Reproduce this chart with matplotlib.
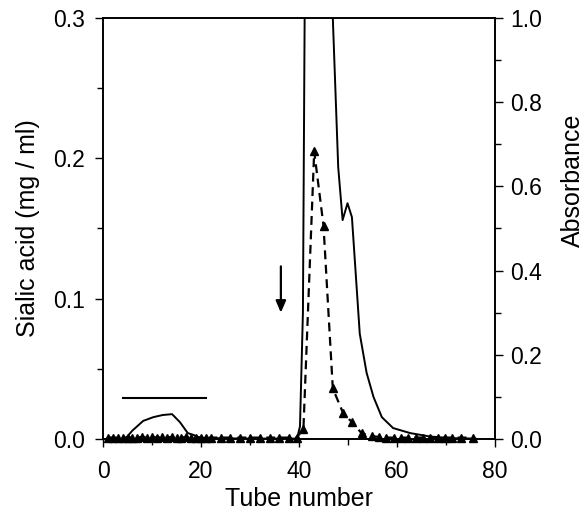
import matplotlib
matplotlib.use("Agg")
import matplotlib.pyplot as plt
from matplotlib.ticker import MultipleLocator, FormatStrFormatter

plt.rcParams['font.family'] = ['Liberation Sans', 'DejaVu Sans']

# Absorbance (solid line, right axis)
abs_tube = [0, 4.5, 6, 8.2, 10.3, 12.2, 14.1, 15.7, 17.3, 18.4, 19.6, 21.5, 30, 39.6, 40.2, 40.8, 41.3,
            44, 46.9, 48.0, 48.9, 49.9, 50.8, 52.4, 53.8, 55.2, 56.9, 59.2, 62.7, 66.7, 71, 76]
abs_val = [0, 0, 0.02, 0.043, 0.052, 0.057, 0.059, 0.04, 0.014, 0.01, 0.004, 0.002, 0.001, 0.001, 0.03, 0.3, 1.3,
           2.0, 1.0, 0.646, 0.52, 0.56, 0.527, 0.25, 0.157, 0.1, 0.052, 0.026, 0.014, 0.006, 0.002, 0.001]

# Sialic acid (dashed with triangles, left axis)
sia_tube = [1, 2, 3, 4, 5, 6, 7, 8, 9, 10, 11, 12, 13, 14, 15, 16, 17, 18, 19, 20,
            21, 22, 24, 26, 28, 30, 32, 34, 36, 38, 39.5, 40.9, 43.1, 45.0, 46.9, 49.0, 50.8,
            52.8, 54.8, 56.3, 57.8, 59.3, 60.8, 62.3, 63.8, 65.3, 66.8, 68.3, 69.8, 71.3, 73, 75.5]
sia_val = [0.001, 0.001, 0.001, 0.001, 0.001, 0.001, 0.001, 0.0015, 0.001, 0.0015, 0.001, 0.0015,
           0.001, 0.0015, 0.001, 0.001, 0.0015, 0.001, 0.001, 0.001,
           0.001, 0.001, 0.001, 0.001, 0.001, 0.001, 0.001, 0.001, 0.001, 0.001, 0.001,
           0.007, 0.205, 0.152, 0.036, 0.0185, 0.012, 0.004, 0.002, 0.0015, 0.001, 0.001,
           0.001, 0.001, 0.001, 0.001, 0.001, 0.001, 0.001, 0.001, 0.001, 0.001]

pool_range = [4.1, 21.0]
pool_level = 0.029
arrow_x = 36.3
arrow_from = 0.125
arrow_to = 0.088

fig = plt.figure(figsize=(5.87, 5.12), dpi=100)
L, R, B, T = 103 / 587, 495 / 587, (512 - 439) / 512, (512 - 18) / 512
ax = fig.add_axes([L, B, R - L, T - B])
ax2 = ax.twinx()

ax2.plot(abs_tube, abs_val, color='black', lw=1.4)
ax.plot(sia_tube, sia_val, color='black', lw=1.6, ls=(0, (4, 2.5)),
        marker='^', markersize=6, clip_on=False, zorder=3)

ax.plot(pool_range, [pool_level, pool_level], color='black', lw=1.5)
ax.annotate('', xy=(arrow_x, arrow_to), xytext=(arrow_x, arrow_from),
            arrowprops=dict(arrowstyle='-|>,head_width=0.3,head_length=0.7',
                            color='black', lw=1.6))

ax.set_xlim(0, 80)
ax.set_ylim(0, 0.3)
ax2.set_ylim(0, 1.0)

ax.xaxis.set_major_locator(MultipleLocator(20))
ax.xaxis.set_minor_locator(MultipleLocator(10))
ax.yaxis.set_major_locator(MultipleLocator(0.1))
ax.yaxis.set_minor_locator(MultipleLocator(0.05))
ax2.yaxis.set_major_locator(MultipleLocator(0.2))
ax2.yaxis.set_minor_locator(MultipleLocator(0.1))

ax.yaxis.set_major_formatter(FormatStrFormatter('%.1f'))
ax2.yaxis.set_major_formatter(FormatStrFormatter('%.1f'))

for a in (ax, ax2):
    a.tick_params(which='both', direction='out', labelsize=16.5, width=1.0)
    a.tick_params(which='major', length=6)
    a.tick_params(which='minor', length=4)
    for s in a.spines.values():
        s.set_linewidth(1.2)
ax.tick_params(axis='x', which='major', pad=9)
ax.tick_params(axis='y', which='major', pad=7)
ax2.tick_params(axis='y', which='major', pad=5)

ax.set_xlabel('Tube number', fontsize=18)
ax.set_ylabel('Sialic acid (mg / ml)', fontsize=18)
ax2.set_ylabel('Absorbance', fontsize=18)

ax.yaxis.label.set_va('center')
ax.yaxis.label.set_ha('center')
ax.yaxis.set_label_coords(-0.191, 0.5)
ax2.yaxis.label.set_va('center')
ax2.yaxis.label.set_ha('center')
ax2.yaxis.set_label_coords(1.2, 0.615)
ax.xaxis.label.set_va('center')
ax.xaxis.set_label_coords(0.5, -0.1425)

fig.savefig('out.png', dpi=100)
